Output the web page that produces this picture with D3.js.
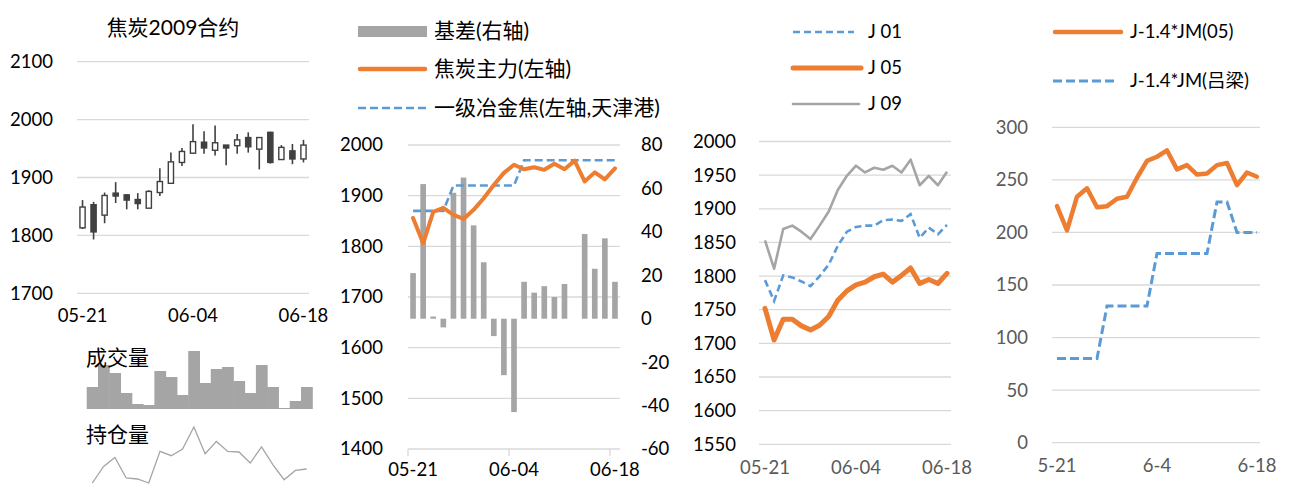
<!DOCTYPE html>
<html>
<head>
<meta charset="utf-8">
<script src="https://cdn.jsdelivr.net/npm/d3@7"></script>
<style>
body { margin: 0; background: #fff; }
text { font-family: Lato, "Noto Sans CJK SC", sans-serif; }
</style>
</head>
<body>
<div id="chart"></div>
<script>
// trading days shown in every panel
var dates = ["05-21","05-22","05-25","05-26","05-27","05-28","05-29","06-01","06-02","06-03",
	"06-04","06-05","06-08","06-09","06-10","06-11","06-12","06-15","06-16","06-17","06-18"];
var tickDates = ["05-21","06-04","06-18"];
var tickShort = ["5-21","6-4","6-18"];

// J2009 candles
var kOpen  = [1813,1853,1835,1873,1870,1862,1847,1874,1890,1926,1942,1961,1947,1956,1955,1969,1949,1978,1931,1946,1932];
var kClose = [1849,1806,1869,1868,1861,1855,1876,1893,1927,1945,1962,1951,1960,1951,1965,1953,1969,1926,1952,1932,1956];
var kHigh  = [1861,1858,1874,1892,1871,1873,1878,1916,1943,1951,1992,1980,1990,1956,1975,1978,1970,1979,1956,1958,1965];
var kLow   = [1811,1793,1821,1856,1845,1845,1847,1868,1890,1920,1942,1941,1938,1921,1941,1943,1914,1924,1931,1923,1926];

// sparklines (relative units)
var volume  = [22,44,36,16,5,4,38,32,14,58,26,40,42,28,16,44,22,1,8,22];
var openInt = [0,16.6,25.6,5,4,0,31.6,27.3,34,56,29.3,41.6,31.6,31,20,36,18.3,3.3,12.6,14];

// panel 2
var basis    = [21,62,1,-4,58,65,43,26,-8,-26,-43,17,12,15,10,16,null,39,23,37,17];
var mainJ    = [1856,1806,1868,1876,1862,1854,1872,1895,1921,1945,1961,1952,1956,1951,1963,1952,1969,1928,1946,1932,1954];
var spotCoke = [1870,1870,1870,1870,1920,1920,1920,1920,1920,1920,1920,1970,1970,1970,1970,1970,1970,1970,1970,1970,1970];

// panel 3
var j01 = [1794,1763,1801,1798,1792,1785,1800,1817,1845,1866,1873,1875,1875,1883,1884,1882,1892,1857,1872,1862,1876];
var j05 = [1752,1705,1736,1736,1726,1720,1727,1740,1764,1778,1787,1791,1799,1803,1791,1801,1812,1789,1795,1789,1804];
var j09 = [1853,1811,1870,1875,1866,1855,1875,1896,1928,1949,1964,1954,1961,1958,1964,1954,1973,1935,1949,1935,1955];

// panel 4
var spread05 = [225,202,234,242,224,225,232,234,252,268,272,278,260,264,255,256,264,266,245,257,253];
var spreadLL = [80,80,80,80,80,130,130,130,130,130,180,180,180,180,180,180,229,229,200,200,200];

var width = 1309, height = 492;
var orange = "#ED7D31", blue = "#5B9BD5", gray = "#A5A5A5", grid = "#D9D9D9";
var tickSize = "18.5px", labelSize = "21px";

var svg = d3.select("#chart")
	.append("svg")
	.attr("width", width)
	.attr("height", height);

svg.append("rect").attr("width", width).attr("height", height).attr("fill", "#fff");

function gridLines(g, y, ticks, x0, x1) {
	g.selectAll(null)
		.data(ticks)
		.enter()
		.append("line")
		.attr("x1", x0).attr("x2", x1)
		.attr("y1", function(d) { return y(d); })
		.attr("y2", function(d) { return y(d); })
		.attr("stroke", grid)
		.attr("stroke-width", 1.3);
}

function yLabels(g, y, ticks, x, anchor, color) {
	g.selectAll(null)
		.data(ticks)
		.enter()
		.append("text")
		.attr("x", x)
		.attr("y", function(d) { return y(d); })
		.attr("dy", "0.35em")
		.attr("text-anchor", anchor)
		.attr("fill", color)
		.style("font-size", tickSize)
		.text(function(d) { return d; });
}

function xLabels(g, xpos, ticks, texts, y, color) {
	g.selectAll(null)
		.data(ticks)
		.enter()
		.append("text")
		.attr("x", function(d) { return xpos(d); })
		.attr("y", y)
		.attr("dy", "0.35em")
		.attr("text-anchor", "middle")
		.attr("fill", color)
		.style("font-size", tickSize)
		.text(function(d, i) { return texts[i]; });
}

function label(g, x, y, str, size, anchor) {
	return g.append("text")
		.attr("x", x).attr("y", y)
		.attr("dy", "0.35em")
		.attr("text-anchor", anchor || "start")
		.attr("fill", "#000")
		.style("font-size", size)
		.text(str);
}

// ---------- panel 1: candles ----------
var p1 = svg.append("g");
var xK = d3.scaleBand().domain(dates).range([77, 309]);
var yK = d3.scaleLinear().domain([1700, 2100]).range([293.3, 61.7]);
var kTicks = [1700, 1800, 1900, 2000, 2100];

gridLines(p1, yK, kTicks, 77, 309);
yLabels(p1, yK, kTicks, 53, "end", "#000");
xLabels(p1, function(d) { return xK(d) + xK.bandwidth() / 2; }, tickDates, tickDates, 316, "#000");
label(p1, 173, 28, "焦炭2009合约", labelSize, "middle");

var candles = p1.selectAll(".candle")
	.data(dates)
	.enter()
	.append("g")
	.attr("class", "candle");

candles.append("line")
	.attr("x1", function(d) { return xK(d) + xK.bandwidth() / 2; })
	.attr("x2", function(d) { return xK(d) + xK.bandwidth() / 2; })
	.attr("y1", function(d, i) { return yK(kHigh[i]); })
	.attr("y2", function(d, i) { return yK(kLow[i]); })
	.attr("stroke", "#404040")
	.attr("stroke-width", 1.6);

candles.append("rect")
	.attr("x", function(d) { return xK(d) + xK.bandwidth() / 2 - 2.6; })
	.attr("y", function(d, i) { return yK(Math.max(kOpen[i], kClose[i])); })
	.attr("width", 5.2)
	.attr("height", function(d, i) { return Math.max(1.5, Math.abs(yK(kOpen[i]) - yK(kClose[i]))); })
	.attr("fill", function(d, i) { return kClose[i] >= kOpen[i] ? "#fff" : "#404040"; })
	.attr("stroke", "#404040")
	.attr("stroke-width", 1.4);

// volume + open interest sparklines
var xV = d3.scaleBand().domain(d3.range(volume.length)).range([86.7, 312.3]);
var yV = d3.scaleLinear().domain([0, d3.max(volume)]).range([409, 351]);
var yO = d3.scaleLinear().domain(d3.extent(openInt)).range([483, 427]);

p1.selectAll(".vol")
	.data(volume)
	.enter()
	.append("rect")
	.attr("class", "vol")
	.attr("x", function(d, i) { return xV(i); })
	.attr("y", function(d) { return yV(d); })
	.attr("width", xV.bandwidth() + 0.5)
	.attr("height", function(d) { return 409 - yV(d); })
	.attr("fill", gray);

p1.append("path")
	.datum(openInt)
	.attr("fill", "none")
	.attr("stroke", gray)
	.attr("stroke-width", 1.3)
	.attr("d", d3.line()
		.x(function(d, i) { return xV(i) + xV.bandwidth() / 2; })
		.y(function(d) { return yO(d); }));

label(p1, 86, 358, "成交量", labelSize);
label(p1, 86, 435, "持仓量", labelSize);

// ---------- panel 2: basis ----------
var p2 = svg.append("g");
var x2 = d3.scaleBand().domain(dates).range([408, 620]).paddingInner(0.44).paddingOuter(0.22);
var yL = d3.scaleLinear().domain([1400, 2000]).range([449, 145]);
var yR = d3.scaleLinear().domain([-60, 80]).range([449, 145]);
var lTicks = [1400, 1500, 1600, 1700, 1800, 1900, 2000];
var rTicks = [-60, -40, -20, 0, 20, 40, 60, 80];

gridLines(p2, yL, lTicks.slice(1), 408, 620);
yLabels(p2, yL, lTicks, 383, "end", "#000");
yLabels(p2, yR, rTicks, 641, "start", "#000");

p2.selectAll(".bar")
	.data(dates)
	.enter()
	.filter(function(d, i) { return basis[i] != null; })
	.append("rect")
	.attr("class", "bar")
	.attr("x", function(d) { return x2(d); })
	.attr("width", x2.bandwidth())
	.attr("y", function(d) { return yR(Math.max(0, basis[dates.indexOf(d)])); })
	.attr("height", function(d) { return Math.abs(yR(basis[dates.indexOf(d)]) - yR(0)); })
	.attr("fill", gray);

// category axis
var step2 = x2.step();
p2.append("line")
	.attr("x1", 408).attr("x2", 620)
	.attr("y1", yL(1400)).attr("y2", yL(1400))
	.attr("stroke", grid).attr("stroke-width", 1.3);
p2.selectAll(".tick2")
	.data(tickDates)
	.enter()
	.append("line")
	.attr("x1", function(d) { return x2(d) + x2.bandwidth() / 2 - step2 / 2; })
	.attr("x2", function(d) { return x2(d) + x2.bandwidth() / 2 - step2 / 2; })
	.attr("y1", yL(1400)).attr("y2", yL(1400) + 7)
	.attr("stroke", grid).attr("stroke-width", 1.3);
xLabels(p2, function(d) { return x2(d) + x2.bandwidth() / 2; }, tickDates, tickDates, 470, "#000");

var line2 = d3.line()
	.x(function(d, i) { return x2(dates[i]) + x2.bandwidth() / 2; })
	.y(function(d) { return yL(d); });

p2.append("path")
	.datum(spotCoke)
	.attr("fill", "none")
	.attr("stroke", blue)
	.attr("stroke-width", 2.6)
	.attr("stroke-dasharray", "8,4")
	.attr("d", line2);

p2.append("path")
	.datum(mainJ)
	.attr("fill", "none")
	.attr("stroke", orange)
	.attr("stroke-width", 4)
	.attr("stroke-linejoin", "round")
	.attr("stroke-linecap", "round")
	.attr("d", line2);

// legend
p2.append("rect").attr("x", 358).attr("y", 26).attr("width", 69).attr("height", 11).attr("fill", gray);
p2.append("line").attr("x1", 360).attr("x2", 425).attr("y1", 69).attr("y2", 69)
	.attr("stroke", orange).attr("stroke-width", 4.5).attr("stroke-linecap", "round");
p2.append("line").attr("x1", 358).attr("x2", 427).attr("y1", 108).attr("y2", 108)
	.attr("stroke", blue).attr("stroke-width", 2.6).attr("stroke-dasharray", "8,4");
label(p2, 434, 31, "基差(右轴)", labelSize);
label(p2, 434, 69, "焦炭主力(左轴)", labelSize);
label(p2, 434, 108, "一级冶金焦(左轴,天津港)", labelSize);

// ---------- panel 3: contracts ----------
var p3 = svg.append("g");
var x3 = d3.scalePoint().domain(dates).range([765, 947]);
var y3 = d3.scaleLinear().domain([1550, 2000]).range([444.3, 141.5]);
var t3 = d3.range(1550, 2001, 50);

gridLines(p3, y3, t3, 759, 951);
yLabels(p3, y3, t3, 736, "end", "#000");
xLabels(p3, x3, tickDates, tickDates, 468, "#595959");

var line3 = d3.line()
	.x(function(d, i) { return x3(dates[i]); })
	.y(function(d) { return y3(d); });

p3.append("path").datum(j09)
	.attr("fill", "none").attr("stroke", gray).attr("stroke-width", 2.6)
	.attr("stroke-linejoin", "round").attr("d", line3);
p3.append("path").datum(j01)
	.attr("fill", "none").attr("stroke", blue).attr("stroke-width", 2.6)
	.attr("stroke-dasharray", "7,4").attr("d", line3);
p3.append("path").datum(j05)
	.attr("fill", "none").attr("stroke", orange).attr("stroke-width", 5)
	.attr("stroke-linejoin", "round").attr("stroke-linecap", "round").attr("d", line3);

p3.append("line").attr("x1", 793).attr("x2", 854).attr("y1", 32).attr("y2", 32)
	.attr("stroke", blue).attr("stroke-width", 2.6).attr("stroke-dasharray", "7,4");
p3.append("line").attr("x1", 793).attr("x2", 861).attr("y1", 68).attr("y2", 68)
	.attr("stroke", orange).attr("stroke-width", 5).attr("stroke-linecap", "round");
p3.append("line").attr("x1", 793).attr("x2", 859).attr("y1", 104).attr("y2", 104)
	.attr("stroke", gray).attr("stroke-width", 2.6).attr("stroke-linecap", "round");
label(p3, 868, 32, "J 01", tickSize);
label(p3, 868, 68, "J 05", tickSize);
label(p3, 868, 104, "J 09", tickSize);

// ---------- panel 4: spreads ----------
var p4 = svg.append("g");
var x4 = d3.scalePoint().domain(dates).range([1057, 1257]);
var y4 = d3.scaleLinear().domain([0, 300]).range([442.7, 127.3]);
var t4 = d3.range(0, 301, 50);

gridLines(p4, y4, t4, 1052, 1260);
yLabels(p4, y4, t4, 1028, "end", "#595959");
xLabels(p4, x4, tickDates, tickShort, 466, "#595959");

var line4 = d3.line()
	.x(function(d, i) { return x4(dates[i]); })
	.y(function(d) { return y4(d); });

p4.append("path").datum(spreadLL)
	.attr("fill", "none").attr("stroke", blue).attr("stroke-width", 3)
	.attr("stroke-dasharray", "9,4").attr("d", line4);
p4.append("path").datum(spread05)
	.attr("fill", "none").attr("stroke", orange).attr("stroke-width", 4.5)
	.attr("stroke-linejoin", "round").attr("stroke-linecap", "round").attr("d", line4);

p4.append("line").attr("x1", 1055).attr("x2", 1121).attr("y1", 32).attr("y2", 32)
	.attr("stroke", orange).attr("stroke-width", 4.5).attr("stroke-linecap", "round");
p4.append("line").attr("x1", 1053).attr("x2", 1116).attr("y1", 81).attr("y2", 81)
	.attr("stroke", blue).attr("stroke-width", 3).attr("stroke-dasharray", "9,4");
label(p4, 1130, 32, "J-1.4*JM(05)", tickSize);
label(p4, 1130, 81, "J-1.4*JM(吕梁)", tickSize);
</script>
</body>
</html>
